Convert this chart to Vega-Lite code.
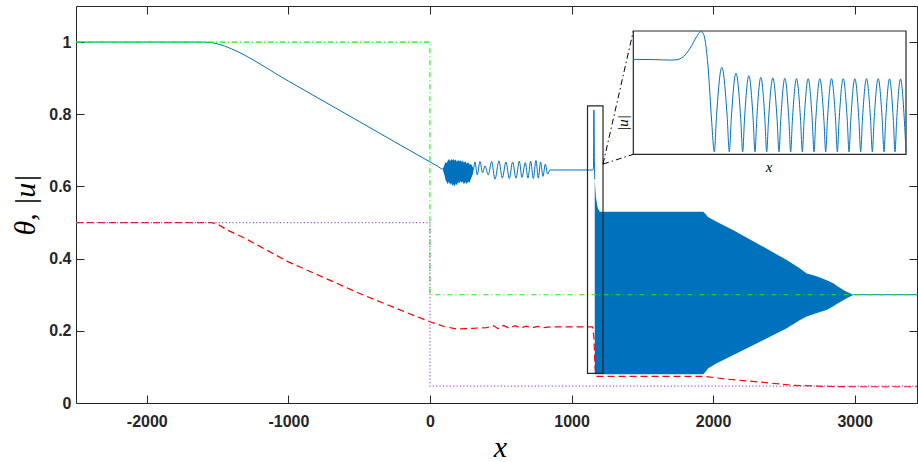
{
  "$schema": "https://vega.github.io/schema/vega-lite/v6.json",
  "width": 841,
  "height": 397,
  "autosize": {"type": "none"},
  "padding": {"left": 76, "top": 6, "right": 1, "bottom": 59},
  "background": "white",
  "config": {
    "view": {"stroke": "#262626", "strokeWidth": 1},
    "axis": {
      "grid": false,
      "labelFont": "Liberation Sans",
      "labelFontWeight": "bold",
      "labelFontSize": 16,
      "labelColor": "#262626",
      "labelOverlap": false,
      "labelFlush": false,
      "domain": false,
      "titleFont": "Liberation Serif",
      "titleFontStyle": "italic",
      "titleFontWeight": "normal",
      "titleFontSize": 30,
      "titleColor": "#000000"
    }
  },
  "datasets": {
    "blue": [
      {"x": -2500, "y": 1.0, "s": "a"}, {"x": -1600, "y": 1.0, "s": "a"}, {"x": -1550, "y": 0.999, "s": "a"},
      {"x": -1500, "y": 0.995, "s": "a"}, {"x": -1450, "y": 0.989, "s": "a"}, {"x": -1400, "y": 0.981, "s": "a"},
      {"x": -1000, "y": 0.892, "s": "a"}, {"x": -500, "y": 0.78, "s": "a"}, {"x": 0, "y": 0.668, "s": "a"},
      {"x": 50, "y": 0.657, "s": "a"}, {"x": 92, "y": 0.648, "s": "a"}, {"x": 306, "y": 0.645, "s": "a"},
      {"x": 317.8, "y": 0.668, "s": "a"}, {"x": 334.3, "y": 0.632, "s": "a"}, {"x": 353.2, "y": 0.669, "s": "a"},
      {"x": 372, "y": 0.638, "s": "a"}, {"x": 388.5, "y": 0.657, "s": "a"}, {"x": 412, "y": 0.632, "s": "a"},
      {"x": 435.6, "y": 0.669, "s": "a"}, {"x": 459.2, "y": 0.62, "s": "a"}, {"x": 487.4, "y": 0.671, "s": "a"},
      {"x": 511, "y": 0.623, "s": "a"}, {"x": 536.9, "y": 0.668, "s": "a"}, {"x": 560.4, "y": 0.622, "s": "a"},
      {"x": 584, "y": 0.668, "s": "a"}, {"x": 607.5, "y": 0.623, "s": "a"}, {"x": 631, "y": 0.67, "s": "a"},
      {"x": 649.9, "y": 0.625, "s": "a"}, {"x": 673.4, "y": 0.666, "s": "a"}, {"x": 692.3, "y": 0.623, "s": "a"},
      {"x": 711.1, "y": 0.67, "s": "a"}, {"x": 730, "y": 0.622, "s": "a"}, {"x": 748.8, "y": 0.672, "s": "a"},
      {"x": 765.3, "y": 0.623, "s": "a"}, {"x": 781.8, "y": 0.668, "s": "a"}, {"x": 798.3, "y": 0.628, "s": "a"},
      {"x": 814.8, "y": 0.662, "s": "a"}, {"x": 831.2, "y": 0.634, "s": "a"}, {"x": 847.7, "y": 0.6456, "s": "a"},
      {"x": 1150, "y": 0.6456, "s": "a"}, {"x": 1155, "y": 0.652, "s": "a"}, {"x": 1158, "y": 0.812, "s": "a"},
      {"x": 1161, "y": 0.68, "s": "a"}, {"x": 1164, "y": 0.62, "s": "a"},
      {"x": 2990, "y": 0.3, "s": "b"}, {"x": 3440, "y": 0.3, "s": "b"}
    ],
    "blob": [
      {"x": 92, "y": 0.646, "y2": 0.65}, {"x": 98, "y": 0.636, "y2": 0.655}, {"x": 104, "y": 0.63, "y2": 0.662},
      {"x": 110, "y": 0.618, "y2": 0.668}, {"x": 118, "y": 0.612, "y2": 0.664}, {"x": 126, "y": 0.606, "y2": 0.672},
      {"x": 134, "y": 0.614, "y2": 0.676}, {"x": 142, "y": 0.604, "y2": 0.67}, {"x": 150, "y": 0.61, "y2": 0.677},
      {"x": 158, "y": 0.602, "y2": 0.672}, {"x": 166, "y": 0.606, "y2": 0.676}, {"x": 174, "y": 0.6, "y2": 0.671},
      {"x": 182, "y": 0.608, "y2": 0.675}, {"x": 190, "y": 0.603, "y2": 0.668}, {"x": 198, "y": 0.612, "y2": 0.674},
      {"x": 206, "y": 0.608, "y2": 0.669}, {"x": 214, "y": 0.615, "y2": 0.673}, {"x": 222, "y": 0.61, "y2": 0.667},
      {"x": 230, "y": 0.614, "y2": 0.672}, {"x": 240, "y": 0.606, "y2": 0.666}, {"x": 250, "y": 0.612, "y2": 0.67},
      {"x": 260, "y": 0.607, "y2": 0.663}, {"x": 270, "y": 0.614, "y2": 0.667}, {"x": 280, "y": 0.61, "y2": 0.66},
      {"x": 290, "y": 0.622, "y2": 0.662}, {"x": 298, "y": 0.63, "y2": 0.657}, {"x": 306, "y": 0.638, "y2": 0.652}
    ],
    "band": [
      {"x": 1164, "y": 0.08, "y2": 0.62}, {"x": 1172, "y": 0.08, "y2": 0.57}, {"x": 1185, "y": 0.08, "y2": 0.54},
      {"x": 1200, "y": 0.08, "y2": 0.53}, {"x": 1931, "y": 0.08, "y2": 0.53}, {"x": 1966, "y": 0.096, "y2": 0.515},
      {"x": 2025, "y": 0.11, "y2": 0.502}, {"x": 2143, "y": 0.133, "y2": 0.479}, {"x": 2331, "y": 0.17, "y2": 0.438},
      {"x": 2520, "y": 0.207, "y2": 0.396}, {"x": 2614, "y": 0.23, "y2": 0.373}, {"x": 2661, "y": 0.24, "y2": 0.359},
      {"x": 2708, "y": 0.246, "y2": 0.354}, {"x": 2755, "y": 0.252, "y2": 0.348}, {"x": 2802, "y": 0.258, "y2": 0.34},
      {"x": 2849, "y": 0.268, "y2": 0.332}, {"x": 2873, "y": 0.274, "y2": 0.325}, {"x": 2920, "y": 0.285, "y2": 0.313},
      {"x": 2943, "y": 0.29, "y2": 0.308}, {"x": 2979, "y": 0.297, "y2": 0.302}, {"x": 2990, "y": 0.299, "y2": 0.3}
    ],
    "red": [
      {"x": -2500, "y": 0.5}, {"x": -1545, "y": 0.5}, {"x": -1500, "y": 0.496}, {"x": -1435, "y": 0.48},
      {"x": -1300, "y": 0.455}, {"x": -1150, "y": 0.423}, {"x": -1000, "y": 0.391}, {"x": -683, "y": 0.336},
      {"x": -500, "y": 0.304}, {"x": -212, "y": 0.258}, {"x": 0, "y": 0.225}, {"x": 100, "y": 0.212},
      {"x": 188, "y": 0.205}, {"x": 300, "y": 0.207}, {"x": 400, "y": 0.209}, {"x": 450, "y": 0.214},
      {"x": 480, "y": 0.206}, {"x": 520, "y": 0.215}, {"x": 560, "y": 0.207}, {"x": 600, "y": 0.214},
      {"x": 640, "y": 0.208}, {"x": 680, "y": 0.213}, {"x": 720, "y": 0.208}, {"x": 760, "y": 0.212},
      {"x": 800, "y": 0.209}, {"x": 850, "y": 0.211}, {"x": 1150, "y": 0.211}, {"x": 1158, "y": 0.18},
      {"x": 1166, "y": 0.1}, {"x": 1175, "y": 0.074}, {"x": 1931, "y": 0.074}, {"x": 2100, "y": 0.066},
      {"x": 2331, "y": 0.058}, {"x": 2566, "y": 0.049}, {"x": 2800, "y": 0.046}, {"x": 3000, "y": 0.045},
      {"x": 3440, "y": 0.045}
    ],
    "green": [
      {"x": -2500, "y": 1, "o": 1}, {"x": 0, "y": 1, "o": 2}, {"x": 0, "y": 0.3, "o": 3}, {"x": 3440, "y": 0.3, "o": 4}
    ],
    "purple": [
      {"x": -2500, "y": 0.5, "o": 1}, {"x": 0, "y": 0.5, "o": 2}, {"x": 0, "y": 0.047, "o": 3}, {"x": 3440, "y": 0.047, "o": 4}
    ],
    "xticks": [{"x": -2000}, {"x": -1000}, {"x": 0}, {"x": 1000}, {"x": 2000}, {"x": 3000}],
    "yticks": [{"y": 0}, {"y": 0.2}, {"y": 0.4}, {"y": 0.6}, {"y": 0.8}, {"y": 1}],
    "zoombox": [
      {"x": 1112.8, "x2": 1222.3, "y": 0.0823, "y2": 0.823}
    ],
    "connectors": [
      {"x": 1222.3, "y": 0.662, "x2": 1436.3, "y2": 1.0307},
      {"x": 1222.3, "y": 0.662, "x2": 1436.3, "y2": 0.689}
    ],
    "inset": [
      {"x": 0, "y": 0.77}, {"x": 8, "y": 0.768}, {"x": 14, "y": 0.764}, {"x": 16, "y": 0.767},
      {"x": 18.3, "y": 0.792}, {"x": 20.8, "y": 0.859}, {"x": 23.2, "y": 0.954}, {"x": 24.7, "y": 0.995},
      {"x": 25.4, "y": 0.988}, {"x": 26.3, "y": 0.927}, {"x": 27.5, "y": 0.684}, {"x": 28.7, "y": 0.278},
      {"x": 29.71, "y": 0.02},
      {"x": 30.53, "y": 0.317}, {"x": 32.46, "y": 0.705}, {"x": 34.39, "y": 0.317}, {"x": 35.21, "y": 0.02},
      {"x": 35.94, "y": 0.296}, {"x": 37.66, "y": 0.657}, {"x": 39.37, "y": 0.296}, {"x": 40.1, "y": 0.02},
      {"x": 40.78, "y": 0.287}, {"x": 42.36, "y": 0.638}, {"x": 43.94, "y": 0.287}, {"x": 44.62, "y": 0.02},
      {"x": 45.26, "y": 0.281}, {"x": 46.76, "y": 0.624}, {"x": 48.26, "y": 0.281}, {"x": 48.9, "y": 0.02},
      {"x": 49.58, "y": 0.279}, {"x": 51.16, "y": 0.619}, {"x": 52.74, "y": 0.279}, {"x": 53.42, "y": 0.02},
      {"x": 54.06, "y": 0.277}, {"x": 55.56, "y": 0.616}, {"x": 57.06, "y": 0.277}, {"x": 57.7, "y": 0.02},
      {"x": 58.34, "y": 0.276}, {"x": 59.84, "y": 0.614}, {"x": 61.34, "y": 0.276}, {"x": 61.98, "y": 0.02},
      {"x": 62.62, "y": 0.276}, {"x": 64.12, "y": 0.614}, {"x": 65.62, "y": 0.276}, {"x": 66.26, "y": 0.02},
      {"x": 66.9, "y": 0.276}, {"x": 68.4, "y": 0.614}, {"x": 69.9, "y": 0.276}, {"x": 70.54, "y": 0.02},
      {"x": 71.18, "y": 0.276}, {"x": 72.68, "y": 0.614}, {"x": 74.18, "y": 0.276}, {"x": 74.82, "y": 0.02},
      {"x": 75.46, "y": 0.276}, {"x": 76.96, "y": 0.614}, {"x": 78.46, "y": 0.276}, {"x": 79.1, "y": 0.02},
      {"x": 79.74, "y": 0.276}, {"x": 81.24, "y": 0.614}, {"x": 82.73, "y": 0.276}, {"x": 83.37, "y": 0.02},
      {"x": 84.01, "y": 0.276}, {"x": 85.51, "y": 0.614}, {"x": 87.01, "y": 0.276}, {"x": 87.65, "y": 0.02},
      {"x": 88.29, "y": 0.276}, {"x": 89.79, "y": 0.614}, {"x": 91.29, "y": 0.276}, {"x": 91.93, "y": 0.02},
      {"x": 92.54, "y": 0.275}, {"x": 93.95, "y": 0.612}, {"x": 95.36, "y": 0.275}, {"x": 95.97, "y": 0.02},
      {"x": 96.57, "y": 0.275}, {"x": 97.98, "y": 0.611}, {"x": 99.4, "y": 0.275}, {"x": 100, "y": 0.02}
    ]
  },
  "layer": [
    {
      "encoding": {
        "x": {
          "field": "x", "type": "quantitative",
          "scale": {"domain": [-2500, 3440], "nice": false, "zero": false},
          "axis": {
            "orient": "bottom", "values": [-2000, -1000, 0, 1000, 2000, 3000],
            "labelExpr": "datum.value + ''", "ticks": true, "tickSize": -8, "tickColor": "#262626", "tickWidth": 1, "labelPadding": 18,
            "title": "x", "titleX": 424, "titleY": 44, "titleBaseline": "middle", "titleAlign": "center"
          }
        },
        "y": {
          "field": "y", "type": "quantitative",
          "scale": {"domain": [0, 1.1], "nice": false, "zero": false},
          "axis": {
            "orient": "left", "values": [0, 0.2, 0.4, 0.6, 0.8, 1],
            "labelExpr": "datum.value + ''", "ticks": true, "tickSize": -8, "tickColor": "#262626", "tickWidth": 1, "labelPadding": 13,
            "title": "θ, |u|", "titleX": -51, "titleY": 198.5, "titleAngle": 270,
            "titleBaseline": "middle", "titleAlign": "center"
          }
        }
      },
      "layer": [
        {"data": {"name": "blue"}, "mark": {"type": "line", "color": "#0072BD", "strokeWidth": 1, "interpolate": "monotone"},
         "encoding": {"detail": {"field": "s"}}},
        {"data": {"name": "blob"}, "mark": {"type": "area", "color": "#0072BD", "opacity": 1},
         "encoding": {"y2": {"field": "y2"}}},
        {"data": {"name": "band"}, "mark": {"type": "area", "color": "#0072BD", "opacity": 1},
         "encoding": {"y2": {"field": "y2"}}},
        {"data": {"name": "red"}, "mark": {"type": "line", "color": "#FF0000", "strokeWidth": 1.2, "strokeDash": [7, 4]},
         "encoding": {}},
        {"data": {"name": "green"}, "mark": {"type": "line", "color": "#00FF00", "strokeWidth": 1.1, "strokeDash": [5, 3, 1, 3]},
         "encoding": {"order": {"field": "o"}}},
        {"data": {"name": "purple"}, "mark": {"type": "line", "color": "#A855D8", "strokeWidth": 1.2, "strokeDash": [1.2, 2.2]},
         "encoding": {"order": {"field": "o"}}},
        {"data": {"name": "zoombox"}, "mark": {"type": "rect", "fillOpacity": 0, "stroke": "#262626", "strokeWidth": 1.2},
         "encoding": {"x2": {"field": "x2"}, "y2": {"field": "y2"}}},
        {"data": {"name": "connectors"}, "mark": {"type": "rule", "color": "#000000", "strokeWidth": 1, "strokeDash": [6, 3, 1.5, 3]},
         "encoding": {"x2": {"field": "x2"}, "y2": {"field": "y2"}}}
      ]
    },
    {
      "encoding": {
        "x": {"field": "x", "type": "quantitative", "scale": {"domain": [-204.37, 104.03], "nice": false, "zero": false}, "axis": null},
        "y": {"field": "y", "type": "quantitative", "scale": {"domain": [-2.017, 1.2028], "nice": false, "zero": false}, "axis": null}
      },
      "layer": [
        {"data": {"values": [{"x": 0, "x2": 100, "y": 0, "y2": 1}]},
         "mark": {"type": "rect", "fillOpacity": 0, "stroke": "#262626", "strokeWidth": 1.2},
         "encoding": {"x2": {"field": "x2"}, "y2": {"field": "y2"}}},
        {"data": {"name": "inset"}, "mark": {"type": "line", "color": "#0072BD", "strokeWidth": 1, "interpolate": "monotone"},
         "encoding": {}},
        {"data": {"values": [{"x": 49.8, "y": -0.103, "t": "x"}]},
         "mark": {"type": "text", "font": "Liberation Serif", "fontStyle": "italic", "fontSize": 15, "baseline": "middle", "align": "center", "color": "#000000"},
         "encoding": {"text": {"field": "t"}}},
        {"data": {"values": [{"x": -3.8, "y": 0.254, "t": "|u|"}]},
         "mark": {"type": "text", "font": "Liberation Serif", "fontStyle": "italic", "fontSize": 15, "baseline": "middle", "align": "center", "angle": 270, "color": "#000000"},
         "encoding": {"text": {"field": "t"}}}
      ]
    },
    {
      "encoding": {
        "x": {"field": "x", "type": "quantitative", "scale": {"domain": [-2500, 3440], "nice": false, "zero": false},
              "axis": {"orient": "top", "values": [-2000, -1000, 0, 1000, 2000, 3000], "labels": false, "ticks": true, "tickSize": -8, "tickColor": "#262626", "tickWidth": 1, "title": null}},
        "y": {"field": "y", "type": "quantitative", "scale": {"domain": [0, 1.1], "nice": false, "zero": false},
              "axis": {"orient": "right", "values": [0, 0.2, 0.4, 0.6, 0.8, 1], "labels": false, "ticks": true, "tickSize": -8, "tickColor": "#262626", "tickWidth": 1, "title": null}}
      },
      "layer": [
        {"data": {"name": "xticks"}, "mark": {"type": "rule", "color": "#262626", "strokeWidth": 1},
         "encoding": {"y": {"datum": 0}, "y2": {"datum": 0.0222}}},
        {"data": {"name": "xticks"}, "mark": {"type": "rule", "color": "#262626", "strokeWidth": 1},
         "encoding": {"y": {"datum": 1.1}, "y2": {"datum": 1.0778}}},
        {"data": {"name": "yticks"}, "mark": {"type": "rule", "color": "#262626", "strokeWidth": 1},
         "encoding": {"x": {"datum": -2500}, "x2": {"datum": -2443.5}}},
        {"data": {"name": "yticks"}, "mark": {"type": "rule", "color": "#262626", "strokeWidth": 1},
         "encoding": {"x": {"datum": 3440}, "x2": {"datum": 3383.5}}}
      ]
    }
  ],
  "resolve": {"scale": {"x": "independent", "y": "independent"}}
}
